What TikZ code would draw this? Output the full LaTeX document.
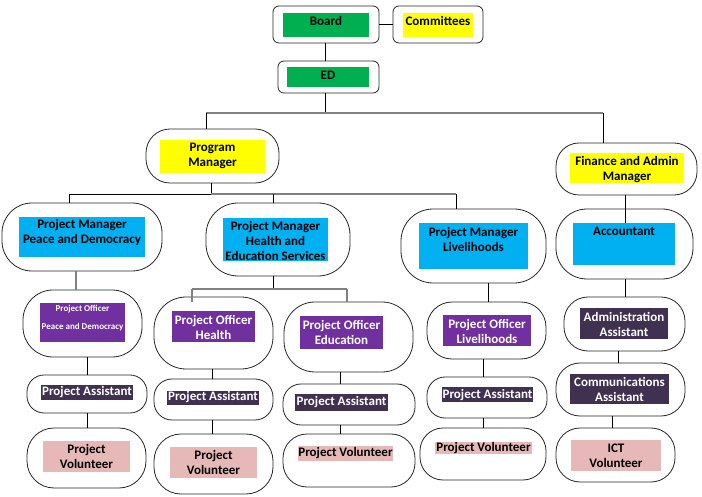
\documentclass[tikz,border=0pt]{standalone}
\usepackage{fontspec}
\setmainfont{Carlito}
\definecolor{cGreen}{HTML}{00B050}
\definecolor{cYellow}{HTML}{FFFF00}
\definecolor{cBlue}{HTML}{00B0F0}
\definecolor{cPurple}{HTML}{7030A0}
\definecolor{cDark}{HTML}{403151}
\definecolor{cPink}{HTML}{E6B9B8}
\tikzset{
  obox/.style={draw=black!85, line width=0.8pt, fill=white, inner sep=0pt},
  fbox/.style={draw=none, inner sep=0pt},
  lbl/.style={inner sep=0pt, align=center, font=\fontsize{13}{15}\selectfont\bfseries, text=black},
  wlbl/.style={lbl, text=white},
  conn/.style={draw=black, line width=0.9pt},
  gconn/.style={draw=black!50, line width=1.6pt}
}
\begin{document}
\begin{tikzpicture}[x=1pt,y=-1pt]
\useasboundingbox (0,0) rectangle (702,497);

% ---- top level ----
\node[obox, rounded corners=6, minimum width=106, minimum height=37] (board) at (326,24.5) {};
\node[fbox, fill=cGreen, minimum width=86, minimum height=24] (boardF) at (326,25) {};
\node[lbl] (boardT) at (326,21) {Board};

\node[obox, rounded corners=6, minimum width=90, minimum height=37] (comm) at (438,24.5) {};
\node[fbox, fill=cYellow, minimum width=70, minimum height=24] (commF) at (438,25) {};
\node[lbl] (commT) at (438,21) {Committees};

\node[obox, rounded corners=6, minimum width=101, minimum height=32] (ed) at (328.5,77) {};
\node[fbox, fill=cGreen, minimum width=82, minimum height=20] (edF) at (328,77) {};
\node[lbl] (edT) at (328,75) {ED};

% ---- managers ----
\node[obox, rounded corners=24, minimum width=133, minimum height=54] (pm) at (212.5,156) {};
\node[fbox, fill=cYellow, minimum width=105, minimum height=33] (pmF) at (212.5,156.5) {};
\node[lbl] (pmT) at (212.5,156) {Program\\Manager};

\node[obox, rounded corners=23, minimum width=141, minimum height=52] (fam) at (626.5,169) {};
\node[fbox, fill=cYellow, minimum width=114, minimum height=30] (famF) at (627,168) {};
\node[lbl] (famT) at (627,170) {Finance and Admin\\Manager};

% ---- project managers / accountant ----
\node[obox, rounded corners=30, minimum width=160, minimum height=68] (pmpd) at (82,237) {};
\node[fbox, fill=cBlue, minimum width=126, minimum height=40] (pmpdF) at (82,237) {};
\node[lbl] (pmpdT) at (82,232.5) {Project Manager\\Peace and Democracy};

\node[obox, rounded corners=32, minimum width=144, minimum height=73] (pmhe) at (278,239.5) {};
\node[fbox, fill=cBlue, minimum width=105, minimum height=43] (pmheF) at (275.5,239.5) {};
\node[lbl] (pmheT) at (275.5,241) {Project Manager\\Health and\\Education Services};

\node[obox, rounded corners=32, minimum width=145, minimum height=74] (pmlv) at (473.5,246) {};
\node[fbox, fill=cBlue, minimum width=109, minimum height=46] (pmlvF) at (473.5,246) {};
\node[lbl] (pmlvT) at (473.5,239.5) {Project Manager\\Livelihoods};

\node[obox, rounded corners=31, minimum width=137, minimum height=70] (acc) at (624.5,244) {};
\node[fbox, fill=cBlue, minimum width=102, minimum height=42] (accF) at (624,244) {};
\node[lbl] (accT) at (624,231) {Accountant};

% ---- project officers / administration ----
\node[obox, rounded corners=30, minimum width=119, minimum height=67] (popd) at (82.5,323.5) {};
\node[fbox, fill=cPurple, minimum width=85, minimum height=39] (popdF) at (82.5,322.5) {};
\node[wlbl, font=\fontsize{9}{18}\selectfont\bfseries] (popdT) at (82.5,318) {Project Officer\\Peace and Democracy};

\node[obox, rounded corners=32, minimum width=119, minimum height=72] (poh) at (213.5,333) {};
\node[fbox, fill=cPurple, minimum width=83, minimum height=31] (pohF) at (213.5,326.5) {};
\node[wlbl] (pohT) at (213.5,327) {Project Officer\\Health};

\node[obox, rounded corners=31, minimum width=129, minimum height=70] (poe) at (348.5,337) {};
\node[fbox, fill=cPurple, minimum width=83, minimum height=33] (poeF) at (341.5,332.5) {};
\node[wlbl] (poeT) at (341.5,332.5) {Project Officer\\Education};

\node[obox, rounded corners=25, minimum width=119, minimum height=57] (polv) at (486.5,330.5) {};
\node[fbox, fill=cPurple, minimum width=88, minimum height=31] (polvF) at (487,330.5) {};
\node[wlbl] (polvT) at (487,331) {Project Officer\\Livelihoods};

\node[obox, rounded corners=24, minimum width=121, minimum height=54] (adm) at (624.5,324) {};
\node[fbox, fill=cDark, minimum width=88, minimum height=31] (admF) at (624,323.5) {};
\node[wlbl] (admT) at (624,324.5) {Administration\\Assistant};

% ---- assistants ----
\node[obox, rounded corners=17, minimum width=120, minimum height=38] (papd) at (87,394) {};
\node[fbox, fill=cDark, minimum width=92, minimum height=15] (papdF) at (87,392.5) {};
\node[wlbl] (papdT) at (87,392) {Project Assistant};

\node[obox, rounded corners=18, minimum width=119, minimum height=41] (pah) at (213.5,399.5) {};
\node[fbox, fill=cDark, minimum width=92, minimum height=14] (pahF) at (213,398) {};
\node[wlbl] (pahT) at (213,397) {Project Assistant};

\node[obox, rounded corners=18, minimum width=132, minimum height=41] (pae) at (349,404.5) {};
\node[fbox, fill=cDark, minimum width=93, minimum height=17] (paeF) at (341.5,402.5) {};
\node[wlbl] (paeT) at (341.5,402) {Project Assistant};

\node[obox, rounded corners=18, minimum width=120, minimum height=41] (palv) at (487,397.5) {};
\node[fbox, fill=cDark, minimum width=91, minimum height=15] (palvF) at (487.5,394.5) {};
\node[wlbl] (palvT) at (487.5,395) {Project Assistant};

\node[obox, rounded corners=24, minimum width=129, minimum height=53] (com) at (620.5,389.5) {};
\node[fbox, fill=cDark, minimum width=99, minimum height=30] (comF) at (619.5,389) {};
\node[wlbl] (comT) at (619.5,389.5) {Communications\\Assistant};

% ---- volunteers ----
\node[obox, rounded corners=27, minimum width=119, minimum height=60] (pvpd) at (86.5,458) {};
\node[fbox, fill=cPink, minimum width=87, minimum height=31] (pvpdF) at (86.5,456.5) {};
\node[lbl] (pvpdT) at (86.5,456.5) {Project\\Volunteer};

\node[obox, rounded corners=27, minimum width=119, minimum height=60] (pvh) at (213.5,464) {};
\node[fbox, fill=cPink, minimum width=87, minimum height=31] (pvhF) at (213.5,462.5) {};
\node[lbl] (pvhT) at (213.5,462.5) {Project\\Volunteer};

\node[obox, rounded corners=24, minimum width=132, minimum height=53] (pve) at (349,460.5) {};
\node[fbox, fill=cPink, minimum width=95, minimum height=15] (pveF) at (345.5,453.5) {};
\node[lbl] (pveT) at (345.5,453) {Project Volunteer};

\node[obox, rounded corners=23, minimum width=126, minimum height=52] (pvlv) at (483,454) {};
\node[fbox, fill=cPink, minimum width=97, minimum height=12] (pvlvF) at (483.5,448) {};
\node[lbl] (pvlvT) at (483.5,448) {Project Volunteer};

\node[obox, rounded corners=24, minimum width=119, minimum height=54] (ict) at (615.5,455) {};
\node[fbox, fill=cPink, minimum width=90, minimum height=31] (ictF) at (616,455.5) {};
\node[lbl] (ictT) at (616,455.5) {ICT\\Volunteer};

% ---- junction points of the reporting lines ----
\coordinate (busTop)  at (325,113);
\coordinate (busTopL) at (206,113);
\coordinate (busTopR) at (603,113);
\coordinate (busMid)  at (211,194);
\coordinate (busMidL) at (69,194);
\coordinate (busMidR) at (456,194);
\coordinate (dropHE)  at (273,194);
\coordinate (busHE)   at (273,289);
\coordinate (busHEL)  at (192,289);
\coordinate (busHER)  at (347,289);
% column positions of the vertical links
\coordinate (xPDa) at (76,0);
\coordinate (xPDb) at (87,0);
\coordinate (xH)   at (212,0);
\coordinate (xE)   at (340.5,0);
\coordinate (xLa)  at (488.5,0);
\coordinate (xLb)  at (483,0);
\coordinate (xFa)  at (625,0);
\coordinate (xFb)  at (618,0);
\coordinate (xFc)  at (612,0);

% ---- reporting lines ----
\draw[conn] (board.east) -- (comm.west);
\draw[conn] (board.south -| busTop) -- (ed.north -| busTop);
\draw[conn] (ed.south -| busTop) -- (busTop);
\draw[gconn] (busTopL) -- (busTopR);
\draw[conn] (busTopL) -- (pm.north -| busTopL);
\draw[conn] (busTopR) -- (fam.north -| busTopR);

\draw[conn] (pm.south -| busMid) -- (busMid);
\draw[conn] (busMidL) -- (busMid);
\draw[gconn] (busMid) -- (busMidR);
\draw[conn] (busMidL) -- (pmpd.north -| busMidL);
\draw[conn] (dropHE) -- (pmhe.north -| dropHE);
\draw[conn] (busMidR) -- (pmlv.north -| busMidR);

\draw[conn] (fam.south -| xFa) -- (accF.north -| xFa);
\draw[conn] (acc.south -| xFa) -- (adm.north -| xFa);
\draw[conn] (adm.south -| xFb) -- (com.north -| xFb);
\draw[conn] (com.south -| xFc) -- (ict.north -| xFc);

\draw[gconn] (pmpd.south -| xPDa) -- (popd.north -| xPDa);
\draw[conn] (popd.south -| xPDb) -- (papd.north -| xPDb);
\draw[conn] (papd.south -| xPDb) -- (pvpd.north -| xPDb);

\draw[conn] (pmhe.south -| busHE) -- (busHE);
\draw[gconn] (busHEL) -- (busHER);
\draw[gconn] (busHEL) -- ([yshift=-5pt]poh.north -| busHEL);
\draw[gconn] (busHER) -- (poe.north -| busHER);
\draw[conn] (poh.south -| xH) -- (pah.north -| xH);
\draw[conn] (pah.south -| xH) -- (pvh.north -| xH);
\draw[conn] (poe.south -| xE) -- (pae.north -| xE);
\draw[conn] (pae.south -| xE) -- (pve.north -| xE);

\draw[conn] (pmlv.south -| xLa) -- (polv.north -| xLa);
\draw[conn] (polv.south -| xLb) -- (palv.north -| xLb);
\draw[conn] (palv.south -| xLb) -- (pvlv.north -| xLb);
\end{tikzpicture}
\end{document}
